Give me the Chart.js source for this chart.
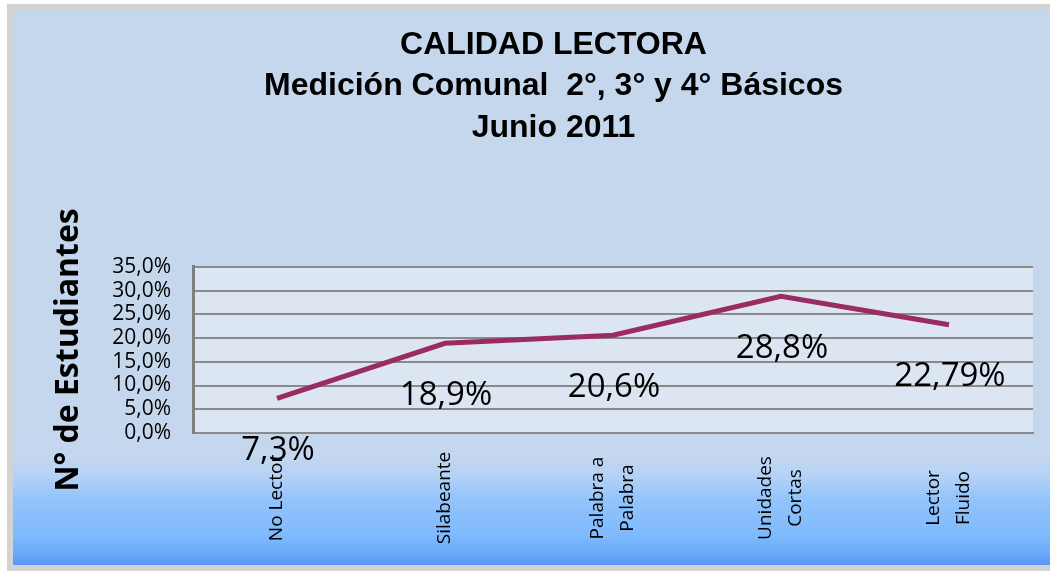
<!DOCTYPE html>
<html>
<head>
<meta charset="utf-8">
<script src="https://cdn.jsdelivr.net/npm/chart.js@4"></script>
<style>
  html, body { margin: 0; padding: 0; background: #fff; overflow: hidden; }
  #frame {
    position: absolute; left: 7px; top: 4px;
    width: 1050px; height: 555px;
    border: 6px solid #d3d3d3; border-right: none;
    overflow: hidden;
    background: linear-gradient(to bottom, #c5d7ec 0%, #c4d7ee 80%, #b4d2f6 84%, #94c4fb 88%, #7db9fd 95%, #6aa8fa 98%, #5895f5 100%);
  }
  #chartBox { position: absolute; left: 0; top: 0; width: 1081px; height: 555px; }
</style>
</head>
<body>
<div id="frame">
  <div id="chartBox"><canvas id="calidad"></canvas></div>
</div>
<script>
var categorias = [["No Lector"], ["Silabeante"], ["Palabra a", "Palabra"], ["Unidades", "Cortas"], ["Lector", "Fluido"]];
var porcentajes = [7.3, 18.9, 20.6, 28.8, 22.79];
var etiquetas = ["7,3%", "18,9%", "20,6%", "28,8%", "22,79%"];
var tituloLineas = ["CALIDAD LECTORA", "Medición Comunal  2°, 3° y 4° Básicos", "Junio 2011"];

// fondo del area de trazado
var fondoPlot = {
    id: 'fondoPlot',
    beforeDraw: function(chart) {
        var a = chart.chartArea;
        var ctx = chart.ctx;
        ctx.save();
        ctx.fillStyle = "#dce6f2";
        ctx.fillRect(a.left, a.top, a.right - a.left, a.bottom - a.top);
        ctx.restore();
    }
};

// etiquetas de datos y del eje x
var textos = {
    id: 'textos',
    afterDraw: function(chart) {
        var ctx = chart.ctx;
        var meta = chart.getDatasetMeta(0);
        var x = chart.scales.x;
        ctx.save();
        ctx.fillStyle = "#000";
        ctx.textAlign = "center";
        ctx.textBaseline = "middle";
        ctx.font = "33px 'Open Sans'";
        meta.data.forEach(function(p, i) {
            ctx.fillText(etiquetas[i], p.x + 1, p.y + 52);
        });

        ctx.font = "19px 'Open Sans'";
        categorias.forEach(function(lineas, i) {
            var px = x.getPixelForValue(i);
            ctx.save();
            ctx.translate(px, 488);
            ctx.rotate(-Math.PI / 2);
            lineas.forEach(function(l, k) {
                ctx.fillText(l, 0, (k - (lineas.length - 1) / 2) * 30);
            });
            ctx.restore();
        });
        ctx.restore();
    }
};

var config = {
    type: 'line',
    data: {
        labels: categorias.map(function(c) { return c.join(" "); }),
        datasets: [{
            data: porcentajes,
            borderColor: "#9b2c62",
            borderWidth: 5,
            pointRadius: 0,
            tension: 0
        }]
    },
    options: {
        responsive: true,
        maintainAspectRatio: false,
        animation: false,
        layout: { padding: 0 },
        plugins: {
            legend: { display: false },
            tooltip: { enabled: false },
            title: {
                display: true,
                text: tituloLineas,
                color: "#000",
                font: { family: "'Liberation Sans', Arial", size: 32, weight: 'bold', lineHeight: 1.3 },
                padding: { top: 14, bottom: 118 }
            }
        },
        scales: {
            x: {
                offset: true,
                grid: { display: false },
                border: { display: true, color: "#8a8a8a", width: 2 },
                ticks: { display: false },
                afterFit: function(s) { s.height = 132; }
            },
            y: {
                min: 0,
                max: 35,
                grid: { color: "#8a8a8a", lineWidth: 2, drawTicks: false },
                border: { display: true, color: "#7f7f7f", width: 3 },
                ticks: {
                    stepSize: 5,
                    autoSkip: false,
                    padding: 22,
                    color: "#000",
                    font: { family: "'Open Sans'", size: 21 },
                    callback: function(v) { return v.toFixed(1).replace(".", ",") + "%"; }
                },
                title: {
                    display: true,
                    text: "N° de Estudiantes",
                    color: "#000",
                    font: { family: "'Open Sans'", size: 32, weight: 'bold', lineHeight: 1.2 },
                    padding: { top: 37, bottom: 0 }
                },
                afterFit: function(s) { s.width = 180; }
            },
            // eje vacio a la derecha para reservar el margen
            margen: {
                position: 'right',
                grid: { display: false },
                border: { display: false },
                ticks: { display: false },
                afterFit: function(s) { s.width = 61; }
            }
        }
    },
    plugins: [fondoPlot, textos]
};

var ctx = document.getElementById("calidad");
window.myChart = new Chart(ctx, config);
</script>
</body>
</html>
